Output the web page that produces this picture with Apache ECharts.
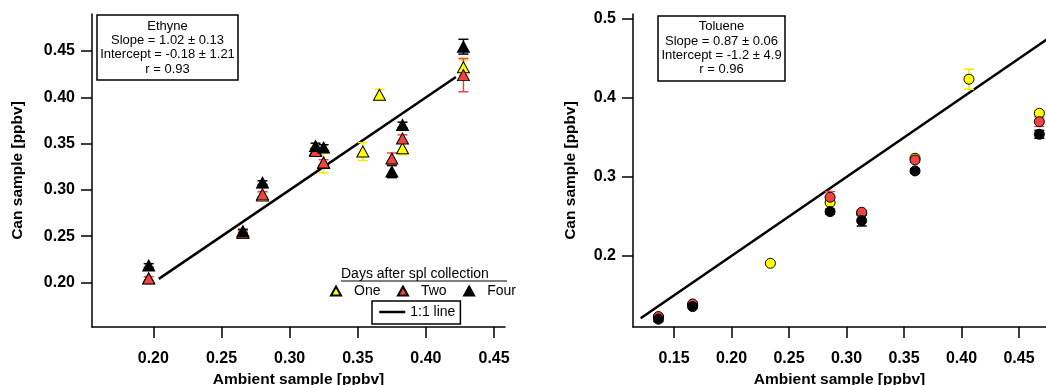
<!DOCTYPE html>
<html>
<head>
<meta charset="utf-8">
<script src="https://cdn.jsdelivr.net/npm/echarts@6/dist/echarts.min.js"></script>
<style>
  html, body { margin: 0; padding: 0; background: #fff; }
  #chart { width: 1046px; height: 385px; }
</style>
</head>
<body>
<div id="chart"></div>
<script>
// Ethyne: can sample vs ambient sample, by days after sample collection
const ethyneOneX   = [0.1966, 0.2657, 0.2801, 0.3190, 0.3249, 0.3537, 0.3659, 0.3828, 0.4275];
const ethyneOneY   = [0.2045, 0.2540, 0.2940, 0.3430, 0.3290, 0.3415, 0.4027, 0.3450, 0.4324];
const ethyneOneErr = [0.002, 0.002, 0.003, 0.003, 0.0105, 0.0096, 0.006, 0.007, 0.008];

const ethyneTwoX   = [0.1966, 0.2657, 0.2801, 0.3190, 0.3249, 0.3750, 0.3828, 0.4275];
const ethyneTwoY   = [0.2043, 0.2538, 0.2952, 0.3421, 0.3296, 0.3339, 0.3555, 0.4240];
const ethyneTwoErr = [0.002, 0.002, 0.003, 0.003, 0.003, 0.006, 0.004, 0.018];

const ethyneFourX   = [0.1966, 0.2657, 0.2801, 0.3190, 0.3249, 0.3750, 0.3828, 0.4275];
const ethyneFourY   = [0.2184, 0.2555, 0.3079, 0.3475, 0.3458, 0.3198, 0.3702, 0.4547];
const ethyneFourErr = [0.002, 0.002, 0.002, 0.003, 0.003, 0.0065, 0.003, 0.008];

const ethyneOneToOne = [0.204, 0.422];

// Toluene
const tolueneOneX   = [0.1364, 0.1662, 0.2338, 0.2857, 0.3132, 0.3596, 0.4065, 0.4677];
const tolueneOneY   = [0.1225, 0.1380, 0.1907, 0.2675, 0.2540, 0.3237, 0.4237, 0.3806];
const tolueneOneErr = [0.002, 0.002, 0.002, 0.003, 0.002, 0.005, 0.0127, 0.004];

const tolueneTwoX   = [0.1364, 0.1662, 0.2857, 0.3132, 0.3596, 0.4677];
const tolueneTwoY   = [0.1232, 0.1392, 0.2743, 0.2553, 0.3215, 0.3700];
const tolueneTwoErr = [0.002, 0.002, 0.0072, 0.002, 0.003, 0.006];

const tolueneFourX   = [0.1364, 0.1662, 0.2857, 0.3132, 0.3596, 0.4677];
const tolueneFourY   = [0.1199, 0.1358, 0.2561, 0.2447, 0.3076, 0.3540];
const tolueneFourErr = [0.003, 0.002, 0.003, 0.0068, 0.003, 0.005];

const tolueneOneToOne = [0.121, 0.50];

// Tick labels
const ethyneXTicks  = [0.20, 0.25, 0.30, 0.35, 0.40, 0.45];
const ethyneYTicks  = [0.20, 0.25, 0.30, 0.35, 0.40, 0.45];
const tolueneXTicks = [0.15, 0.20, 0.25, 0.30, 0.35, 0.40, 0.45];
const tolueneYTicks = [0.2, 0.3, 0.4, 0.5];

// Legend / annotation text
const dayNames = ['One', 'Two', 'Four'];
const lineName = '1:1 line';
const legendTitle = 'Days after spl collection';
const ethyneStats  = ['Ethyne', 'Slope = 1.02 ± 0.13', 'Intercept = -0.18 ± 1.21', 'r = 0.93'];
const tolueneStats = ['Toluene', 'Slope = 0.87 ± 0.06', 'Intercept = -1.2 ± 4.9', 'r = 0.96'];

const FONT = '"Liberation Sans", Arial, Helvetica, sans-serif';
const COLORS = { One: '#FFFF00', Two: '#F04444', Four: '#000000' };
const BAR_COLORS = { One: '#F2EA00', Two: '#F04444', Four: '#000000' };

function zip3(xs, ys, es) { return xs.map((x, i) => [x, ys[i], es[i]]); }

// vertical error bar with short caps, drawn in data coordinates
function errorSeries(name, data, gi) {
  const c = BAR_COLORS[name];
  return {
    type: 'custom',
    name: name + ' error',
    xAxisIndex: gi, yAxisIndex: gi,
    silent: true,
    clip: true,
    encode: { x: 0, y: 1 },
    data: data,
    renderItem: function (params, api) {
      const x = api.value(0), y = api.value(1), e = api.value(2);
      const top = api.coord([x, y + e]);
      const bot = api.coord([x, y - e]);
      const hw = 5;
      const st = { stroke: c, lineWidth: 1.5 };
      return {
        type: 'group',
        children: [
          { type: 'line', shape: { x1: top[0], y1: top[1], x2: bot[0], y2: bot[1] }, style: st },
          { type: 'line', shape: { x1: top[0] - hw, y1: top[1], x2: top[0] + hw, y2: top[1] }, style: st },
          { type: 'line', shape: { x1: bot[0] - hw, y1: bot[1], x2: bot[0] + hw, y2: bot[1] }, style: st }
        ]
      };
    }
  };
}

function pointSeries(name, data, gi, symbol, size) {
  return {
    type: 'scatter',
    name: name,
    xAxisIndex: gi, yAxisIndex: gi,
    symbol: symbol,
    symbolSize: size,
    data: data.map(d => [d[0], d[1]]),
    itemStyle: { color: COLORS[name], borderColor: '#000', borderWidth: 1, opacity: 1 },
    emphasis: { disabled: true }
  };
}

function oneToOne(range, gi) {
  return {
    type: 'line',
    name: lineName,
    xAxisIndex: gi, yAxisIndex: gi,
    symbol: 'none',
    data: [[range[0], range[0]], [range[1], range[1]]],
    lineStyle: { color: '#000', width: 2.5 },
    itemStyle: { color: '#000' },
    clip: true,
    silent: true,
    z: 1
  };
}

function valueAxis(gi, min, max, ticks, digits, extra) {
  return Object.assign({
    type: 'value',
    gridIndex: gi,
    min: min, max: max,
    splitLine: { show: false },
    axisLine: { show: true, onZero: false, lineStyle: { color: '#000', width: 1.5 } },
    axisTick: { show: true, inside: false, length: 11, lineStyle: { color: '#000', width: 1.5 }, customValues: ticks },
    axisLabel: {
      customValues: ticks,
      color: '#000', fontFamily: FONT, fontWeight: 'bold', fontSize: 16,
      formatter: v => Number(v).toFixed(digits)
    },
    nameLocation: 'middle',
    nameTextStyle: { color: '#000', fontFamily: FONT, fontWeight: 'bold', fontSize: 15.5 }
  }, extra);
}

const eOne = zip3(ethyneOneX, ethyneOneY, ethyneOneErr);
const eTwo = zip3(ethyneTwoX, ethyneTwoY, ethyneTwoErr);
const eFour = zip3(ethyneFourX, ethyneFourY, ethyneFourErr);
const tOne = zip3(tolueneOneX, tolueneOneY, tolueneOneErr);
const tTwo = zip3(tolueneTwoX, tolueneTwoY, tolueneTwoErr);
const tFour = zip3(tolueneFourX, tolueneFourY, tolueneFourErr);

const TRI = [12, 11];
const CIR = 10;

const statsText = lines => lines.join('\n');
const textStyleBase = { fill: '#000', fontFamily: FONT, fontSize: 13, lineHeight: 14.4, align: 'center', verticalAlign: 'top' };

const option = {
  backgroundColor: '#fff',
  animation: false,
  grid: [
    { left: 92, top: 14, width: 413, height: 313, containLabel: false, outerBoundsMode: 'none' },
    { left: 633, top: 14, width: 413, height: 313, containLabel: false, outerBoundsMode: 'none' }
  ],
  xAxis: [
    valueAxis(0, 0.155, 0.458, ethyneXTicks, 2, { name: 'Ambient sample [ppbv]', nameGap: 40 }),
    valueAxis(1, 0.1143, 0.4735, tolueneXTicks, 2, { name: 'Ambient sample [ppbv]', nameGap: 40 })
  ],
  yAxis: [
    valueAxis(0, 0.152, 0.49, ethyneYTicks, 2, { name: 'Can sample [ppbv]', nameGap: 66 }),
    valueAxis(1, 0.110, 0.5063, tolueneYTicks, 1, { name: 'Can sample [ppbv]', nameGap: 54 })
  ],
  legend: [
    {
      data: dayNames,
      left: 330, top: 284,
      orient: 'horizontal',
      padding: 0,
      itemWidth: 10, itemHeight: 9,
      itemGap: 16.5,
      selectedMode: false,
      textStyle: { color: '#000', fontFamily: FONT, fontSize: 14, padding: [0, 0, 0, 8] }
    },
    {
      data: [lineName],
      left: 372, top: 301,
      padding: [4, 5, 5, 6],
      borderColor: '#000', borderWidth: 1.5,
      itemWidth: 26, itemHeight: 14,
      selectedMode: false,
      itemStyle: { opacity: 0, color: 'rgba(0,0,0,0)', borderWidth: 0 },
      lineStyle: { width: 2.5, color: '#000' },
      textStyle: { color: '#000', fontFamily: FONT, fontSize: 14 }
    }
  ],
  graphic: [
    {
      type: 'group', z: 100,
      children: [
        { type: 'rect', shape: { x: 97, y: 15, width: 141, height: 65 }, style: { fill: '#fff', stroke: '#000', lineWidth: 1.5 } },
        { type: 'text', x: 167.5, y: 18.8, style: Object.assign({ text: statsText(ethyneStats) }, textStyleBase) }
      ]
    },
    {
      type: 'group', z: 100,
      children: [
        { type: 'rect', shape: { x: 658, y: 16, width: 127, height: 65 }, style: { fill: '#fff', stroke: '#000', lineWidth: 1.5 } },
        { type: 'text', x: 721.5, y: 19.5, style: Object.assign({ text: statsText(tolueneStats) }, textStyleBase) }
      ]
    },
    {
      type: 'group', z: 100,
      children: [
        { type: 'text', x: 341, y: 274, style: { text: legendTitle, fill: '#000', fontFamily: FONT, fontSize: 14, align: 'left', verticalAlign: 'middle' } },
        { type: 'line', shape: { x1: 341, y1: 281, x2: 507, y2: 281 }, style: { stroke: '#000', lineWidth: 1 } }
      ]
    }
  ],
  series: [
    oneToOne(ethyneOneToOne, 0),
    errorSeries('One', eOne, 0), pointSeries('One', eOne, 0, 'triangle', TRI),
    errorSeries('Two', eTwo, 0), pointSeries('Two', eTwo, 0, 'triangle', TRI),
    errorSeries('Four', eFour, 0), pointSeries('Four', eFour, 0, 'triangle', TRI),
    oneToOne(tolueneOneToOne, 1),
    errorSeries('One', tOne, 1), pointSeries('One', tOne, 1, 'circle', CIR),
    errorSeries('Two', tTwo, 1), pointSeries('Two', tTwo, 1, 'circle', CIR),
    errorSeries('Four', tFour, 1), pointSeries('Four', tFour, 1, 'circle', CIR)
  ]
};

// label distances from the axis lines
option.xAxis.forEach(ax => { ax.axisLabel.margin = 23.5; });
option.yAxis.forEach(ax => { ax.axisLabel.margin = 17; });

const chart = echarts.init(document.getElementById('chart'), null, { renderer: 'canvas' });
chart.setOption(option);
</script>
</body>
</html>
